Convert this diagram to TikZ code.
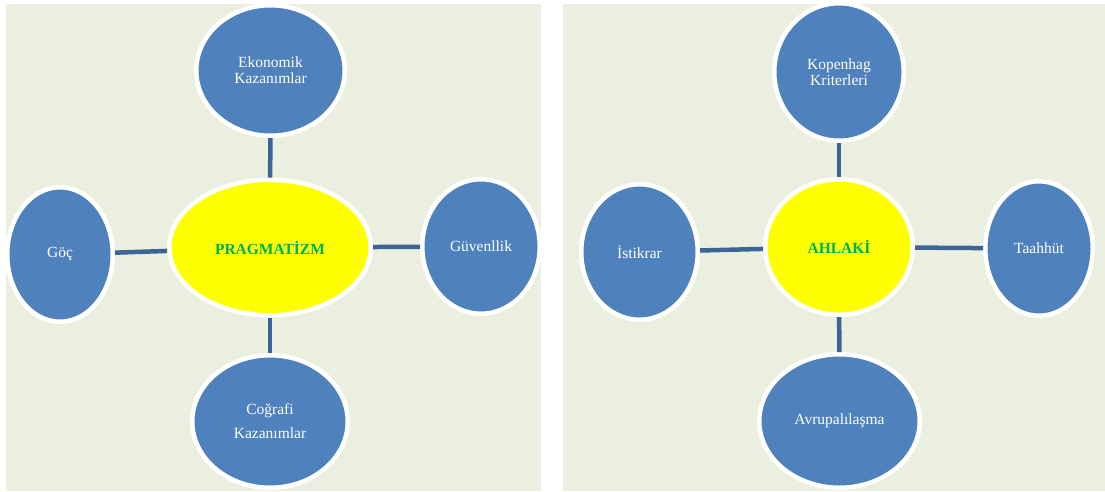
\documentclass[tikz,border=0pt]{standalone}
\usepackage{fontspec}
\setmainfont{Liberation Serif}
\usepackage{tikz}
\usetikzlibrary{shapes.geometric}
\definecolor{panelbg}{HTML}{EBEFDF}
\definecolor{bubbleblue}{HTML}{4F81BD}
\definecolor{hubyellow}{HTML}{FFFF00}
\definecolor{spokeblue}{HTML}{3C6494}
\definecolor{titlegreen}{HTML}{00B050}
\begin{document}
\begin{tikzpicture}[x=1pt,y=-1pt,
  bubble/.style={ellipse,draw=white,line width=4.5pt,fill=bubbleblue,text=white,inner sep=0pt,align=center,font=\fontsize{15.5}{17}\selectfont},
  hub/.style={bubble,fill=hubyellow,text=titlegreen,font=\fontsize{15.5}{17}\selectfont\bfseries},
  spoke/.style={draw=spokeblue,line width=4.5pt}]
\useasboundingbox (0,0) rectangle (1105,491);
% panels
\fill[panelbg] (6,4) rectangle (541,491);
\fill[panelbg] (563,4) rectangle (1105,491);
% left: pragmatizm
\node[hub,minimum width=201.5pt,minimum height=135.5pt] (prag) at (270,247.5) {PRAGMATİZM};
\foreach \n/\x/\y/\w/\h/\txt in {eko/270.5/70.5/148.5/130.5/{Ekonomik\\[-1pt]Kazanımlar},
    goc/60/254.5/105.5/134.5/{Göç},
    guv/481/246.5/117.5/134.5/{Güvenllik},
    cog/270/421.5/155.5/132.5/{Coğrafi\\[7pt]Kazanımlar}}{
  \node[bubble,minimum width=\w pt,minimum height=\h pt] (\n) at (\x,\y) {\txt};}
% right: ahlaki
\node[hub,minimum width=147.5pt,minimum height=135.5pt] (ahl) at (839,247) {AHLAKİ};
\foreach \n/\x/\y/\w/\h/\txt in {kop/839/72/129.5/137.5/{Kopenhag\\[-1pt]Kriterleri},
    ist/639.5/252/116.5/135.5/{İstikrar},
    taa/1039/248.5/107.5/134.5/{Taahhüt},
    avr/839.5/421/160.5/133.5/{Avrupalılaşma}}{
  \node[bubble,minimum width=\w pt,minimum height=\h pt] (\n) at (\x,\y) {\txt};}
% spokes
\foreach \a/\b in {prag/eko,prag/goc,prag/guv,prag/cog,ahl/kop,ahl/ist,ahl/taa,ahl/avr}{
  \draw[spoke] (\a) -- (\b);}
\end{tikzpicture}
\end{document}
